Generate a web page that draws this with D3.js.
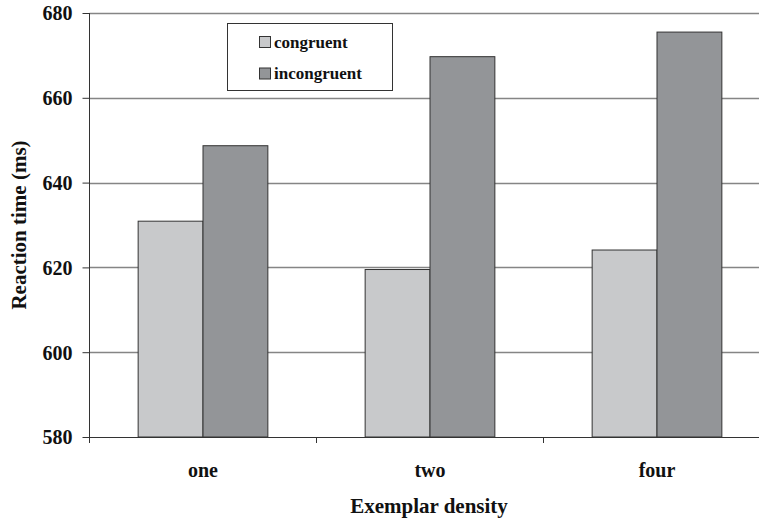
<!DOCTYPE html>
<html><head><meta charset="utf-8">
<script src="https://cdn.jsdelivr.net/npm/d3@7"></script>
<style>body{margin:0;background:#fff}svg{display:block}text{font-family:"Liberation Serif","Times New Roman",serif;font-weight:bold;fill:#111}</style>
</head><body><svg id="c" width="759" height="520"></svg>
<script>
const categories = ["one", "two", "four"];
const seriesNames = ["congruent", "incongruent"];
const congruent = [630.9, 619.5, 624.1];
const incongruent = [648.7, 669.7, 675.5];
const yTicks = [580, 600, 620, 640, 660, 680];
const colors = {congruent: "#c8c9cb", incongruent: "#939598"};

const svg = d3.select("#c");
const plotL = 89.5, plotR = 770.5, plotT = 13, plotB = 437;
const y = d3.scaleLinear().domain([580, 680]).range([plotB, plotT]);
const x0 = d3.scaleBand().domain(categories).range([plotL, plotR]).padding(0);
const x1 = d3.scaleBand().domain(seriesNames).range([0, x0.bandwidth()]).paddingInner(0).paddingOuter(0.75);
const values = {congruent, incongruent};

// gridlines
svg.append("g").selectAll("line").data(yTicks.slice(1)).join("line")
  .attr("x1", plotL).attr("x2", 759)
  .attr("y1", d => Math.round(y(d)) + 0.5).attr("y2", d => Math.round(y(d)) + 0.5)
  .attr("stroke", "#858585").attr("stroke-width", 1.3);

// bars
categories.forEach((c, i) => {
  seriesNames.forEach(s => {
    const v = values[s][i];
    svg.append("rect")
      .attr("x", x0(c) + x1(s)).attr("width", x1.bandwidth())
      .attr("y", y(v)).attr("height", y(580) - y(v))
      .attr("fill", colors[s]).attr("stroke", "#333").attr("stroke-width", 1);
  });
});

// y axis
const ya = svg.append("g").attr("transform", `translate(${plotL},0)`)
  .call(d3.axisLeft(y).tickValues(yTicks).tickSize(7).tickPadding(10).tickFormat(d3.format("d")));
ya.select(".domain").attr("stroke", "#333").attr("d", `M0,${plotT}V${plotB + 6}`);
ya.selectAll(".tick line").attr("stroke", "#333");
ya.selectAll(".tick text").attr("font-size", 20).attr("font-family", "Liberation Serif").attr("font-weight", "bold").attr("fill", "#111").attr("dy", "0.34em");

// x axis
const xa = svg.append("g").attr("transform", `translate(0,${plotB})`);
xa.append("line").attr("x1", plotL).attr("x2", 759).attr("y1", 0.5).attr("y2", 0.5).attr("stroke", "#333");
xa.selectAll(".tk").data(categories.slice(1)).join("line")
  .attr("x1", d => x0(d)).attr("x2", d => x0(d)).attr("y1", 0).attr("y2", 6).attr("stroke", "#333");
xa.selectAll(".lbl").data(categories).join("text")
  .attr("x", d => x0(d) + x0.bandwidth() / 2).attr("y", 40)
  .attr("text-anchor", "middle").attr("font-size", 20).text(d => d);

// axis titles
svg.append("text").attr("x", 429).attr("y", 513).attr("text-anchor", "middle").attr("font-size", 21).text("Exemplar density");
svg.append("text").attr("transform", "translate(26,225) rotate(-90)").attr("text-anchor", "middle").attr("font-size", 21).text("Reaction time (ms)");

// legend
const lg = svg.append("g");
lg.append("rect").attr("x", 227.5).attr("y", 23.5).attr("width", 165).attr("height", 67).attr("fill", "#fff").attr("stroke", "#333");
seriesNames.forEach((s, i) => {
  const cy = 42 + i * 31.5;
  lg.append("rect").attr("x", 259.5).attr("y", cy - 5.5).attr("width", 11).attr("height", 11).attr("fill", colors[s]).attr("stroke", "#333");
  lg.append("text").attr("x", 274).attr("y", cy).attr("dy", "0.35em").attr("font-size", 17).text(s);
});
</script></body></html>
